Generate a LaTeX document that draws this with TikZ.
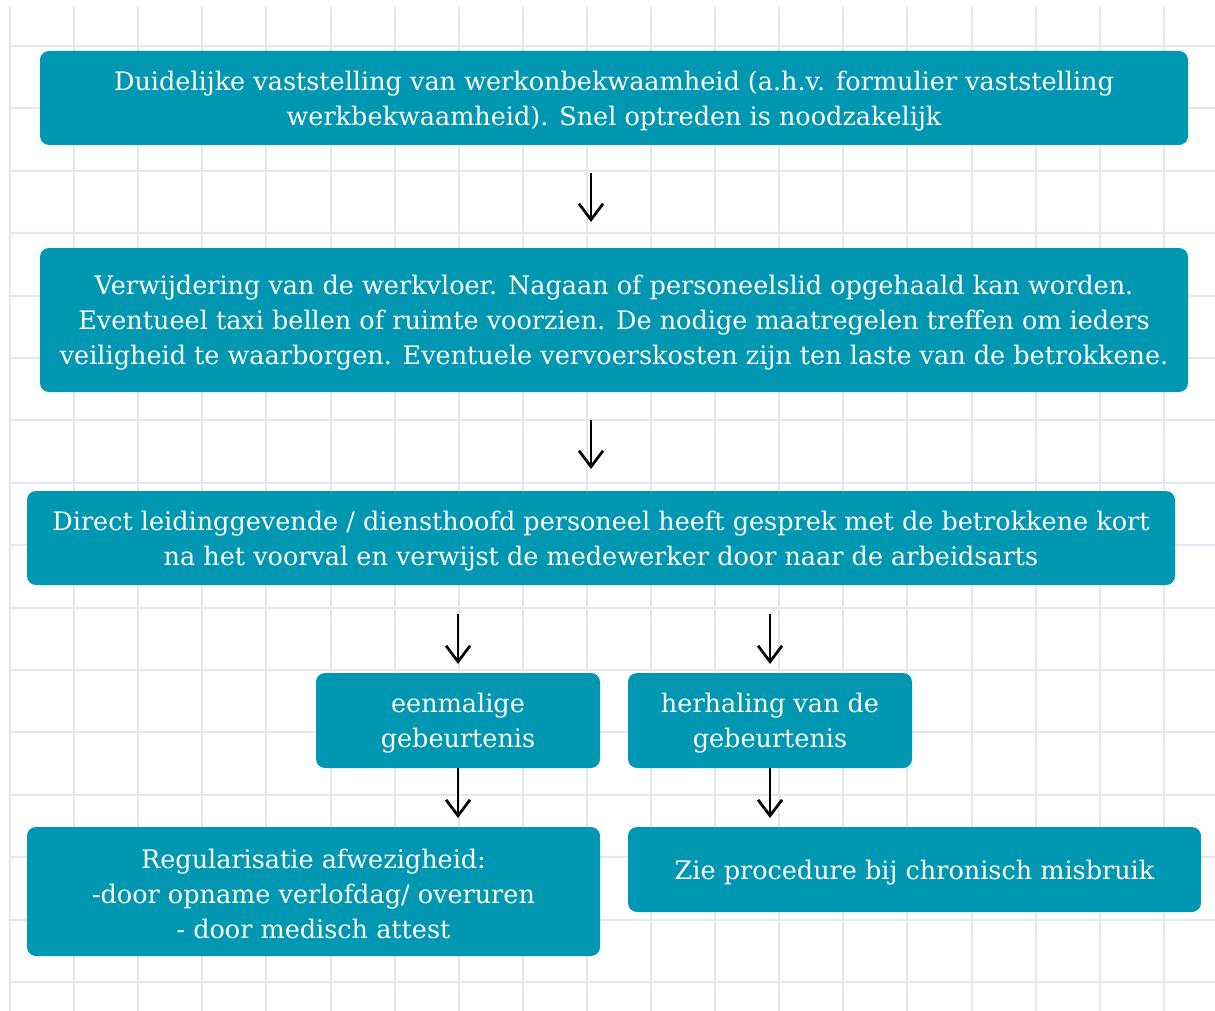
\documentclass[tikz,border=0pt]{standalone}
\usepackage{fontspec}
\setmainfont{DejaVu Serif}
\usetikzlibrary{arrows.meta}
\definecolor{boxteal}{HTML}{0097B2}
\definecolor{gridline}{HTML}{E6E6F3}
\newcommand\topfix{\rule{0pt}{25pt}}
\tikzset{
  flowbox/.style={draw=none, fill=boxteal, rounded corners=9pt, text=white, align=center, inner sep=0pt,
    font=\fontsize{25.5}{35}\selectfont},
  flowarrow/.style={draw=black, line width=2.7pt, -{Straight Barb[length=16pt,width=24pt,line width=2.7pt]}},
}
\begin{document}
\begin{tikzpicture}[x=1pt,y=-1pt]
\useasboundingbox (0,0) rectangle (1215,1011);
\fill[white] (0,0) rectangle (1215,1011);
% grid
\foreach \i in {0,...,18} {
  \draw[gridline, line width=2pt] ({10+64.1*\i},7) -- ({10+64.1*\i},1011);
}
\foreach \j in {0,...,15} {
  \draw[gridline, line width=2pt] (10,{46+62.4*\j}) -- (1215,{46+62.4*\j});
}
% boxes
\node[flowbox, minimum width=1148pt, minimum height=94pt] (b1) at (614,98)
  {\topfix Duidelijke vaststelling van werkonbekwaamheid (a.h.v. formulier vaststelling\\werkbekwaamheid). Snel optreden is noodzakelijk};
\node[flowbox, minimum width=1148pt, minimum height=144pt] (b2) at (614,320)
  {\topfix Verwijdering van de werkvloer. Nagaan of personeelslid opgehaald kan worden.\\Eventueel taxi bellen of ruimte voorzien. De nodige maatregelen treffen om ieders\\veiligheid te waarborgen. Eventuele vervoerskosten zijn ten laste van de betrokkene.};
\node[flowbox, minimum width=1148pt, minimum height=94pt] (b3) at (601,538)
  {\topfix Direct leidinggevende / diensthoofd personeel heeft gesprek met de betrokkene kort\\na het voorval en verwijst de medewerker door naar de arbeidsarts};
\node[flowbox, minimum width=284pt, minimum height=95pt] (b4) at (458,720.5)
  {\topfix eenmalige\\gebeurtenis};
\node[flowbox, minimum width=284pt, minimum height=95pt] (b5) at (770,720.5)
  {\topfix herhaling van de\\gebeurtenis};
\node[flowbox, minimum width=573pt, minimum height=129pt] (b6) at (313.5,891.5)
  {\topfix Regularisatie afwezigheid:\\-door opname verlofdag/ overuren\\- door medisch attest};
\node[flowbox, minimum width=573pt, minimum height=85pt] (b7) at (914.5,869.5)
  {\topfix Zie procedure bij chronisch misbruik};
% arrows
\coordinate (a1s) at (591,173); \coordinate (a1e) at (591,222);
\coordinate (a2s) at (591,420); \coordinate (a2e) at (591,469);
\coordinate (a3s) at (458,614); \coordinate (a3e) at (458,664);
\coordinate (a4s) at (770,614); \coordinate (a4e) at (770,664);
\coordinate (a5e) at (458,818);
\coordinate (a6e) at (770,818);
\draw[flowarrow] (a1s) -- (a1e);
\draw[flowarrow] (a2s) -- (a2e);
\draw[flowarrow] (a3s) -- (a3e);
\draw[flowarrow] (a4s) -- (a4e);
\draw[flowarrow] (b4.south) -- (a5e);
\draw[flowarrow] (b5.south) -- (a6e);
\end{tikzpicture}
\end{document}
